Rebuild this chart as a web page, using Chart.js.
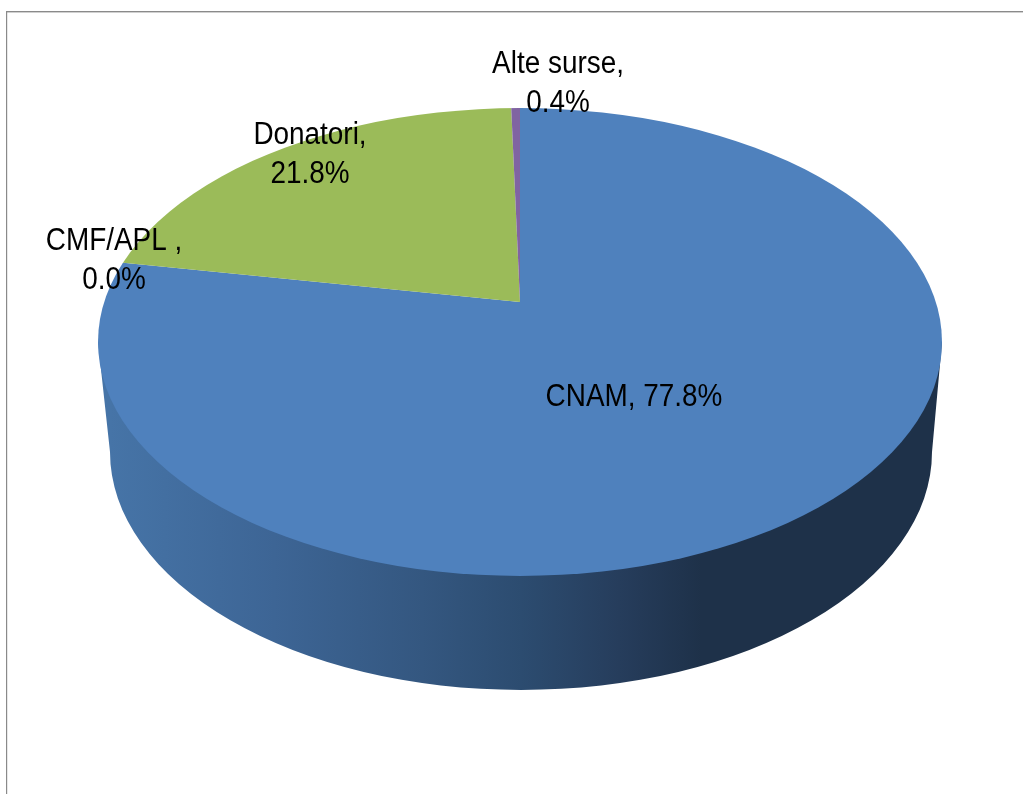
<!DOCTYPE html>
<html>
<head>
<meta charset="utf-8">
<title>Surse de finantare</title>
<script src="https://cdn.jsdelivr.net/npm/chart.js@4/dist/chart.umd.min.js"></script>
<style>
html, body { margin: 0; padding: 0; background: #fff; }
canvas { display: block; }
</style>
</head>
<body>
<canvas id="pieChart" width="1023" height="794"></canvas>
<script>
const categories = ['CNAM', 'CMF/APL ', 'Donatori', 'Alte surse'];
const shares = [77.8, 0.0, 21.8, 0.4];
const colors = ['#4f81bd', '#c0504d', '#9bbb59', '#8064a2'];

// top face of the 3d pie, apex sits above the ellipse centre because of the perspective
const top3d = { cx: 520, cy: 342, rx: 422, ry: 234, aspect: 1.8 };
const bottom3d = { cx: 521, cy: 452, rx: 411, ry: 238 };

// label anchor: centre x, first baseline
const labelAnchors = [null, [114, 250], [310, 144], [558, 73]];
const fontPx = 31, lineHeight = 38.5, textStretch = 0.9;

function drawWall(ctx) {
    const g = ctx.createLinearGradient(bottom3d.cx - bottom3d.rx, 0, bottom3d.cx + bottom3d.rx, 0);
    g.addColorStop(0, '#4674a7');
    g.addColorStop(0.2, '#3d6595');
    g.addColorStop(0.38, '#345780');
    g.addColorStop(0.5, '#2c4c70');
    g.addColorStop(0.62, '#263d5c');
    g.addColorStop(0.72, '#1e3149');
    g.addColorStop(1, '#1e3149');
    ctx.fillStyle = g;
    ctx.beginPath();
    ctx.moveTo(top3d.cx - top3d.rx, top3d.cy);
    ctx.lineTo(bottom3d.cx - bottom3d.rx, bottom3d.cy);
    ctx.ellipse(bottom3d.cx, bottom3d.cy, bottom3d.rx, bottom3d.ry, 0, Math.PI, 0, true);
    ctx.lineTo(top3d.cx + top3d.rx, top3d.cy);
    ctx.closePath();
    ctx.fill();
}

function drawLabel(ctx, lines, x, y) {
    ctx.save();
    ctx.translate(x, y);
    ctx.scale(textStretch, 1);
    ctx.fillStyle = '#000';
    ctx.font = fontPx + 'px "Liberation Sans"';
    ctx.textAlign = 'center';
    ctx.textBaseline = 'alphabetic';
    lines.forEach((line, i) => ctx.fillText(line, 0, i * lineHeight));
    ctx.restore();
}

const pie3d = {
    id: 'pie3d',
    beforeDatasetsDraw(chart) {
        const ctx = chart.ctx;
        const arc = chart.getDatasetMeta(0).data[0];

        // frame, top and left only
        ctx.fillStyle = '#8a8a8a';
        ctx.fillRect(6, 11, 1017, 1.4);
        ctx.fillRect(6, 11, 1.2, 783);

        drawWall(ctx);

        ctx.save();
        ctx.beginPath();
        ctx.ellipse(top3d.cx, top3d.cy, top3d.rx, top3d.ry, 0, 0, Math.PI * 2);
        ctx.clip();
        ctx.translate(arc.x, arc.y);
        ctx.scale(top3d.aspect, 1);
        ctx.translate(-arc.x, -arc.y);
    },
    afterDatasetsDraw(chart) {
        const ctx = chart.ctx;
        ctx.restore();
        categories.forEach((name, i) => {
            const value = shares[i].toFixed(1) + '%';
            if (labelAnchors[i]) {
                drawLabel(ctx, [name + ',', value], labelAnchors[i][0], labelAnchors[i][1]);
            } else {
                drawLabel(ctx, [name + ', ' + value], 634, 406);
            }
        });
    }
};

new Chart(document.getElementById('pieChart').getContext('2d'), {
    type: 'pie',
    data: {
        labels: categories,
        datasets: [{
            data: shares,
            backgroundColor: colors,
            borderWidth: 0
        }]
    },
    options: {
        responsive: false,
        animation: false,
        rotation: 0,
        layout: { padding: { top: 22, bottom: 212, left: 17, right: 0 } },
        plugins: {
            legend: { display: false },
            tooltip: { enabled: false }
        }
    },
    plugins: [pie3d]
});
</script>
</body>
</html>
